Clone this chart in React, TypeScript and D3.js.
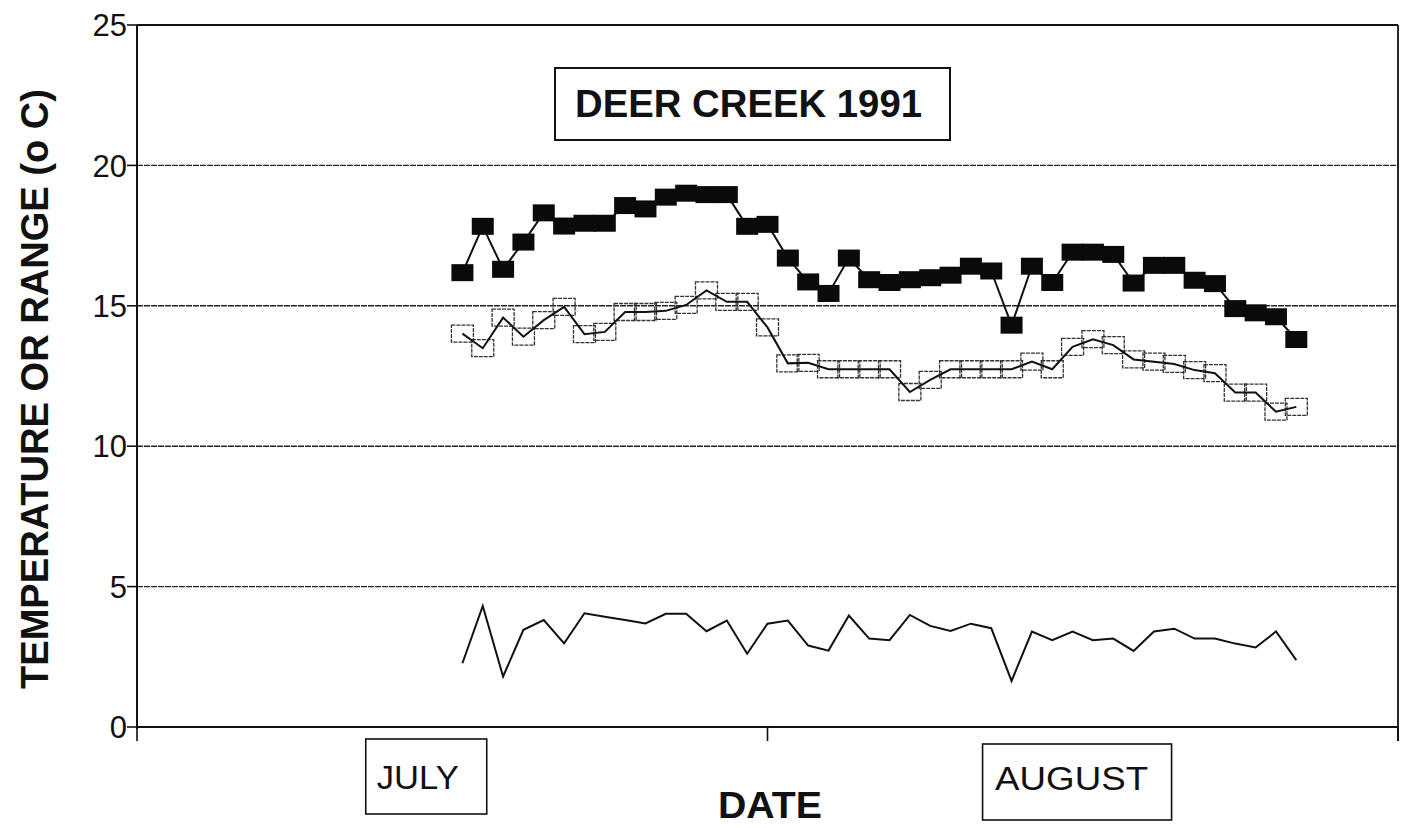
import React from 'react';
import * as d3 from 'd3';

// ---- data ----
const firstDay = '1991-07-17';
const maxTemp = [16.18, 17.83, 16.3, 17.27, 18.31, 17.84, 17.94, 17.94, 18.57, 18.45, 18.87, 19.01, 18.96, 18.96, 17.83, 17.9, 16.7, 15.85, 15.44, 16.7, 15.93, 15.83, 15.93, 16.0, 16.09, 16.41, 16.24, 14.31, 16.41, 15.83, 16.91, 16.91, 16.83, 15.81, 16.44, 16.44, 15.91, 15.79, 14.9, 14.75, 14.61, 13.8];
const meanTemp = [14.01, 13.49, 14.58, 13.9, 14.49, 14.96, 13.99, 14.07, 14.78, 14.78, 14.82, 15.03, 15.55, 15.14, 15.14, 14.23, 12.95, 12.97, 12.74, 12.74, 12.74, 12.74, 11.93, 12.36, 12.74, 12.74, 12.74, 12.74, 13.01, 12.74, 13.54, 13.81, 13.6, 13.09, 13.01, 12.93, 12.71, 12.6, 11.91, 11.91, 11.23, 11.4];
const dailyRange = [2.27, 4.31, 1.8, 3.46, 3.81, 2.98, 4.05, 3.93, 3.81, 3.69, 4.03, 4.03, 3.41, 3.79, 2.61, 3.68, 3.79, 2.9, 2.72, 3.97, 3.15, 3.09, 3.99, 3.6, 3.42, 3.68, 3.52, 1.64, 3.4, 3.09, 3.4, 3.09, 3.15, 2.71, 3.4, 3.5, 3.15, 3.15, 2.97, 2.83, 3.4, 2.38];
const yTicks = [0, 5, 10, 15, 20, 25];
const monthTicks = ['1991-07-01', '1991-08-01', '1991-09-01'];
const monthLabels = ['JULY', 'AUGUST'];
const monthLabelDates = ['1991-07-15', '1991-08-16'];
const chartTitle = 'DEER CREEK 1991';
const xTitle = 'DATE';
const yTitle = 'TEMPERATURE OR RANGE (o C)';

// ---- layout ----
const W = 1405;
const H = 828;
const M = { left: 137, right: 1398, top: 25, bottom: 727 };
const SQ_W = 22;
const SQ_H = 17;
const labelBoxes = [
  { dx0: -56, dx1: 65, y0: 739, y1: 814, tdx: -4, tlen: 82, base: 789 },
  { dx0: -90, dx1: 99, y0: 744, y1: 820, tdx: -1, tlen: 153, base: 790 },
];
const FONT = "'Liberation Sans', Arial, Helvetica, sans-serif";

export default function App() {
  const parse = d3.utcParse('%Y-%m-%d');
  const tickDates = monthTicks.map((s) => parse(s) as Date);
  const x = d3
    .scaleUtc()
    .domain([tickDates[0], tickDates[tickDates.length - 1]])
    .range([M.left, M.right]);
  const y = d3.scaleLinear().domain([0, 25]).range([M.bottom, M.top]);
  const start = parse(firstDay) as Date;
  const dates = maxTemp.map((_, i) => d3.utcDay.offset(start, i));

  const line = d3
    .line<number>()
    .x((_, i) => x(dates[i]))
    .y((d) => y(d));

  return (
    <svg
      width={W}
      height={H}
      style={{ position: 'absolute', left: 0, top: 0, background: '#fff' }}
      fontFamily={FONT}
    >
      <rect x={0} y={0} width={W} height={H} fill="#fff" />
      {/* gridlines */}
      {yTicks
        .filter((t) => t > 0 && t < 25)
        .map((t) => (
          <line
            key={'g' + t}
            x1={M.left}
            x2={M.right}
            y1={y(t)}
            y2={y(t)}
            stroke="#222"
            strokeWidth={1.4}
            strokeDasharray="6,1"
          />
        ))}
      {/* plot frame: top & right */}
      <line x1={M.left} x2={M.right} y1={y(25)} y2={y(25)} stroke="#111" strokeWidth={1.8} />
      <line x1={M.right} x2={M.right} y1={y(25)} y2={M.bottom + 14} stroke="#111" strokeWidth={1.8} />
      {/* y axis */}
      <line x1={M.left} x2={M.left} y1={y(25)} y2={M.bottom + 2} stroke="#111" strokeWidth={2} />
      {yTicks.map((t) => (
        <g key={'yt' + t}>
          <line x1={M.left - 10} x2={M.left} y1={y(t)} y2={y(t)} stroke="#111" strokeWidth={1.6} />
          <text x={M.left - 10} y={y(t)} dy="0.36em" textAnchor="end" fontSize={31} fill="#111">
            {t}
          </text>
        </g>
      ))}
      {/* x axis */}
      <line x1={M.left} x2={M.right} y1={M.bottom} y2={M.bottom} stroke="#111" strokeWidth={2} />
      {tickDates.map((d, i) => (
        <line key={'xt' + i} x1={x(d)} x2={x(d)} y1={M.bottom} y2={M.bottom + 14} stroke="#111" strokeWidth={1.6} />
      ))}

      {/* range line */}
      <path d={line(dailyRange) || ''} fill="none" stroke="#111" strokeWidth={2} strokeLinejoin="miter" />

      {/* mean (open squares) */}
      {meanTemp.map((v, i) => (
        <rect
          key={'o' + i}
          x={x(dates[i]) - SQ_W / 2}
          y={y(v) - SQ_H / 2}
          width={SQ_W}
          height={SQ_H}
          fill="none"
          stroke="#333"
          strokeWidth={1.3}
          strokeDasharray="4,1"
        />
      ))}
      <path d={line(meanTemp) || ''} fill="none" stroke="#111" strokeWidth={2} />

      {/* max (filled squares) */}
      <path d={line(maxTemp) || ''} fill="none" stroke="#111" strokeWidth={2} />
      {maxTemp.map((v, i) => (
        <rect
          key={'f' + i}
          x={x(dates[i]) - SQ_W / 2}
          y={y(v) - SQ_H / 2}
          width={SQ_W}
          height={SQ_H}
          fill="#0a0a0a"
        />
      ))}

      {/* title box */}
      <rect x={555} y={68} width={395} height={72} fill="#fff" stroke="#111" strokeWidth={2} />
      <text
        x={748.5}
        y={117}
        textAnchor="middle"
        fontSize={38}
        fontWeight="bold"
        fill="#111"
        textLength={347}
        lengthAdjust="spacingAndGlyphs"
      >
        {chartTitle}
      </text>

      {/* month label boxes */}
      {monthLabels.map((lab, i) => {
        const cx = x(parse(monthLabelDates[i]) as Date);
        const b = labelBoxes[i];
        return (
          <g key={'m' + i}>
            <rect x={cx + b.dx0} y={b.y0} width={b.dx1 - b.dx0} height={b.y1 - b.y0} fill="#fff" stroke="#111" strokeWidth={1.6} />
            <text
              x={cx + b.tdx}
              y={b.base}
              textAnchor="middle"
              fontSize={33}
              fill="#111"
              textLength={b.tlen}
              lengthAdjust="spacingAndGlyphs"
            >
              {lab}
            </text>
          </g>
        );
      })}

      {/* axis titles */}
      <text
        x={770}
        y={818}
        textAnchor="middle"
        fontSize={36}
        fontWeight="bold"
        fill="#111"
        textLength={104}
        lengthAdjust="spacingAndGlyphs"
      >
        {xTitle}
      </text>
      <text
        transform={`translate(48, 389) rotate(-90)`}
        textAnchor="middle"
        fontSize={38}
        fontWeight="bold"
        fill="#111"
        textLength={600}
        lengthAdjust="spacingAndGlyphs"
      >
        {yTitle}
      </text>
    </svg>
  );
}
